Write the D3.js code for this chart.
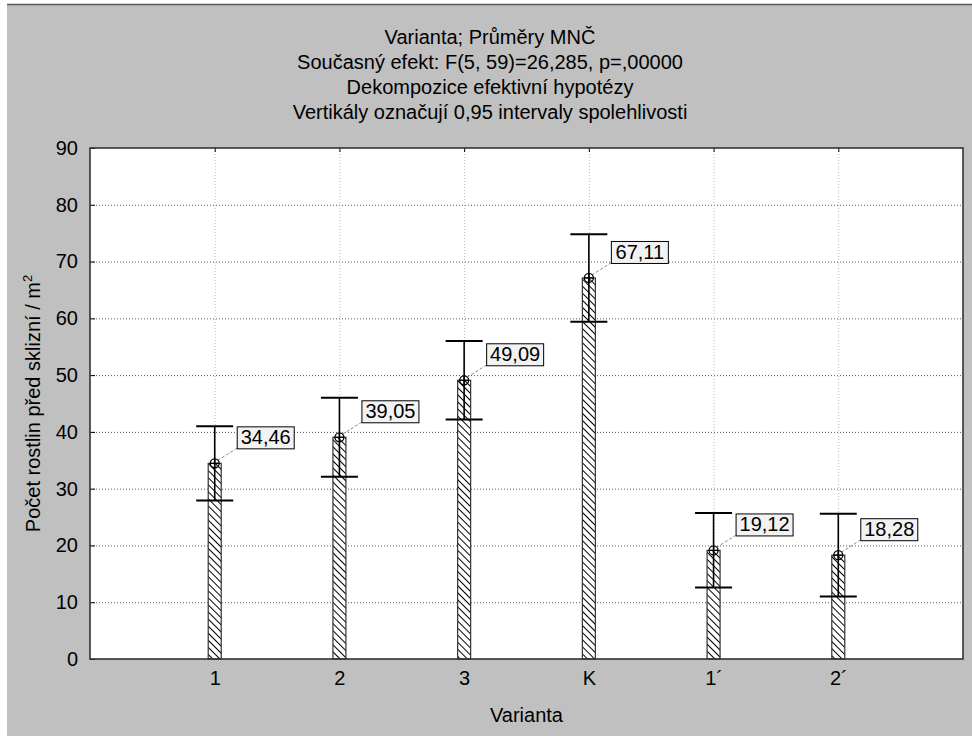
<!DOCTYPE html>
<html>
<head>
<meta charset="utf-8">
<script src="https://cdn.jsdelivr.net/npm/d3@7"></script>
<style>
    body { margin: 0; background: #ffffff; }
    text { font-family: "Liberation Sans", Arial, sans-serif; fill: #000; }
</style>
</head>
<body>
<script>
//chart data
var categories = ["1", "2", "3", "K", "1\u00b4", "2\u00b4"];
var means = [34.46, 39.05, 49.09, 67.11, 19.12, 18.28];
var lower = [27.9, 32.1, 42.2, 59.4, 12.6, 11.0];
var upper = [41.0, 46.0, 56.0, 74.8, 25.7, 25.6];
var yTicks = [0, 10, 20, 30, 40, 50, 60, 70, 80, 90];
var titleLines = [
    "Varianta; Průměry MNČ",
    "Současný efekt: F(5, 59)=26,285, p=,00000",
    "Dekompozice efektivní hypotézy",
    "Vertikály označují 0,95 intervaly spolehlivosti"
];

//executes script when window is loaded
window.onload = function(){

    var w = 972, h = 736;
    var left = 90, right = 963, top = 148, bottom = 659;

    var svg = d3.select("body")
        .append("svg")
        .attr("width", w)
        .attr("height", h);

    //gray panel behind everything
    svg.append("rect")
        .attr("x", 7)
        .attr("y", 4)
        .attr("width", w - 7)
        .attr("height", h - 4)
        .style("fill", "#c0c0c0");

    svg.append("line")
        .attr("x1", 7).attr("x2", w)
        .attr("y1", 4.5).attr("y2", 4.5)
        .style("stroke", "#5a5a5a")
        .style("stroke-width", 1.5);

    //pattern for the hatched bars
    var defs = svg.append("defs");
    var hatch = defs.append("pattern")
        .attr("id", "hatch")
        .attr("patternUnits", "userSpaceOnUse")
        .attr("width", 5)
        .attr("height", 5)
        .attr("patternTransform", "rotate(45)");
    hatch.append("rect")
        .attr("width", 5).attr("height", 5)
        .style("fill", "#fff");
    hatch.append("line")
        .attr("x1", 0).attr("x2", 5)
        .attr("y1", 0.5).attr("y2", 0.5)
        .style("stroke", "#000")
        .style("stroke-width", 1);

    //scales
    var x = d3.scalePoint()
        .domain(categories)
        .range([left, right])
        .padding(1);

    var y = d3.scaleLinear()
        .domain([0, 90])
        .range([bottom, top]);

    //white plot area
    svg.append("rect")
        .attr("x", left)
        .attr("y", top)
        .attr("width", right - left)
        .attr("height", bottom - top)
        .style("fill", "#fff");

    //horizontal grid lines
    svg.selectAll(".hgrid")
        .data(yTicks.slice(1, -1))
        .enter()
        .append("line")
        .attr("class", "hgrid")
        .attr("x1", left).attr("x2", right)
        .attr("y1", function(d){ return y(d) + 0.5; })
        .attr("y2", function(d){ return y(d) + 0.5; })
        .style("stroke", "#555")
        .style("stroke-dasharray", "1,2");

    //vertical grid lines at the categories
    svg.selectAll(".vgrid")
        .data(categories)
        .enter()
        .append("line")
        .attr("class", "vgrid")
        .attr("x1", function(d){ return x(d) + 0.5; })
        .attr("x2", function(d){ return x(d) + 0.5; })
        .attr("y1", top).attr("y2", bottom)
        .style("stroke", "#b8b8b8")
        .style("stroke-dasharray", "1,2");

    //axes with inward ticks
    var yAxis = d3.axisLeft(y)
        .tickValues(yTicks)
        .tickSize(-5)
        .tickPadding(12);

    var yg = svg.append("g")
        .attr("transform", "translate(" + left + ",0)")
        .call(yAxis);

    var xAxis = d3.axisBottom(x)
        .tickSize(-4)
        .tickPadding(12);

    var xg = svg.append("g")
        .attr("transform", "translate(0," + bottom + ")")
        .call(xAxis);

    var xTop = d3.axisTop(x)
        .tickSize(-4)
        .tickFormat("");

    svg.append("g")
        .attr("transform", "translate(0," + top + ")")
        .call(xTop);

    svg.selectAll(".domain").remove();
    svg.selectAll(".tick line").style("stroke", "#000");
    yg.selectAll("text").style("font-size", "20px").style("font-family", "Liberation Sans, Arial, sans-serif");
    xg.selectAll("text").style("font-size", "20px").style("font-family", "Liberation Sans, Arial, sans-serif");

    //hatched bars
    var barW = 13;
    svg.selectAll(".bar")
        .data(means)
        .enter()
        .append("rect")
        .attr("class", "bar")
        .attr("x", function(d, i){ return x(categories[i]) - barW / 2; })
        .attr("y", function(d){ return y(d); })
        .attr("width", barW)
        .attr("height", function(d){ return bottom - y(d); })
        .style("fill", "url(#hatch)")
        .style("stroke", "#333")
        .style("stroke-width", 1.2);

    //error bars
    var capW = 37;
    var err = svg.selectAll(".err")
        .data(means)
        .enter()
        .append("g")
        .attr("class", "err");

    err.append("line")
        .attr("x1", function(d, i){ return x(categories[i]); })
        .attr("x2", function(d, i){ return x(categories[i]); })
        .attr("y1", function(d, i){ return y(upper[i]); })
        .attr("y2", function(d, i){ return y(lower[i]); })
        .style("stroke", "#000")
        .style("stroke-width", 1.6);

    err.append("line")
        .attr("x1", function(d, i){ return x(categories[i]) - capW / 2; })
        .attr("x2", function(d, i){ return x(categories[i]) + capW / 2; })
        .attr("y1", function(d, i){ return y(upper[i]); })
        .attr("y2", function(d, i){ return y(upper[i]); })
        .style("stroke", "#000")
        .style("stroke-width", 2);

    err.append("line")
        .attr("x1", function(d, i){ return x(categories[i]) - capW / 2; })
        .attr("x2", function(d, i){ return x(categories[i]) + capW / 2; })
        .attr("y1", function(d, i){ return y(lower[i]); })
        .attr("y2", function(d, i){ return y(lower[i]); })
        .style("stroke", "#000")
        .style("stroke-width", 2);

    //dashed leader lines to the value boxes
    var fmt = function(v){ return d3.format(".2f")(v).replace(".", ","); };
    var boxW = 57, boxH = 22, offX = 22, offY = 15;

    err.append("line")
        .attr("x1", function(d, i){ return x(categories[i]) + 3; })
        .attr("y1", function(d){ return y(d) - 3; })
        .attr("x2", function(d, i){ return x(categories[i]) + offX; })
        .attr("y2", function(d){ return y(d) - offY; })
        .style("stroke", "#888")
        .style("stroke-dasharray", "3,2");

    //mean markers, circle with a cross
    err.append("circle")
        .attr("cx", function(d, i){ return x(categories[i]); })
        .attr("cy", function(d){ return y(d); })
        .attr("r", 4.5)
        .style("fill", "none")
        .style("stroke", "#000")
        .style("stroke-width", 1.3);

    err.append("path")
        .attr("d", function(d, i){
            var cx = x(categories[i]), cy = y(d);
            return "M" + (cx - 4.5) + "," + cy + "H" + (cx + 4.5) +
                   "M" + cx + "," + (cy - 4.5) + "V" + (cy + 4.5);
        })
        .style("stroke", "#000")
        .style("stroke-width", 1.2);

    //value boxes
    err.append("rect")
        .attr("x", function(d, i){ return x(categories[i]) + offX + 0.5; })
        .attr("y", function(d){ return y(d) - offY - boxH + 0.5; })
        .attr("width", boxW)
        .attr("height", boxH)
        .style("fill", "#f2f2f2")
        .style("stroke", "#000");

    err.append("text")
        .attr("x", function(d, i){ return x(categories[i]) + offX + boxW / 2 + 0.5; })
        .attr("y", function(d){ return y(d) - offY - 4; })
        .attr("text-anchor", "middle")
        .style("font-size", "20px")
        .text(function(d){ return fmt(d); });

    //plot frame
    svg.append("rect")
        .attr("x", left)
        .attr("y", top)
        .attr("width", right - left)
        .attr("height", bottom - top)
        .style("fill", "none")
        .style("stroke", "#333")
        .style("stroke-width", 1.6);

    //title lines
    svg.selectAll(".title")
        .data(titleLines)
        .enter()
        .append("text")
        .attr("class", "title")
        .attr("x", 490)
        .attr("y", function(d, i){ return 44 + i * 25; })
        .attr("text-anchor", "middle")
        .style("font-size", "20px")
        .text(function(d){ return d; });

    //axis titles
    svg.append("text")
        .attr("x", (left + right) / 2)
        .attr("y", 722)
        .attr("text-anchor", "middle")
        .style("font-size", "20px")
        .text("Varianta");

    var yLabel = svg.append("text")
        .attr("transform", "translate(40," + ((top + bottom) / 2) + ") rotate(-90)")
        .attr("text-anchor", "middle")
        .style("font-size", "20px");
    yLabel.append("tspan").text("Počet rostlin před sklizní / m");
    yLabel.append("tspan")
        .attr("dy", "-8")
        .style("font-size", "13px")
        .text("2");
};
</script>
</body>
</html>
